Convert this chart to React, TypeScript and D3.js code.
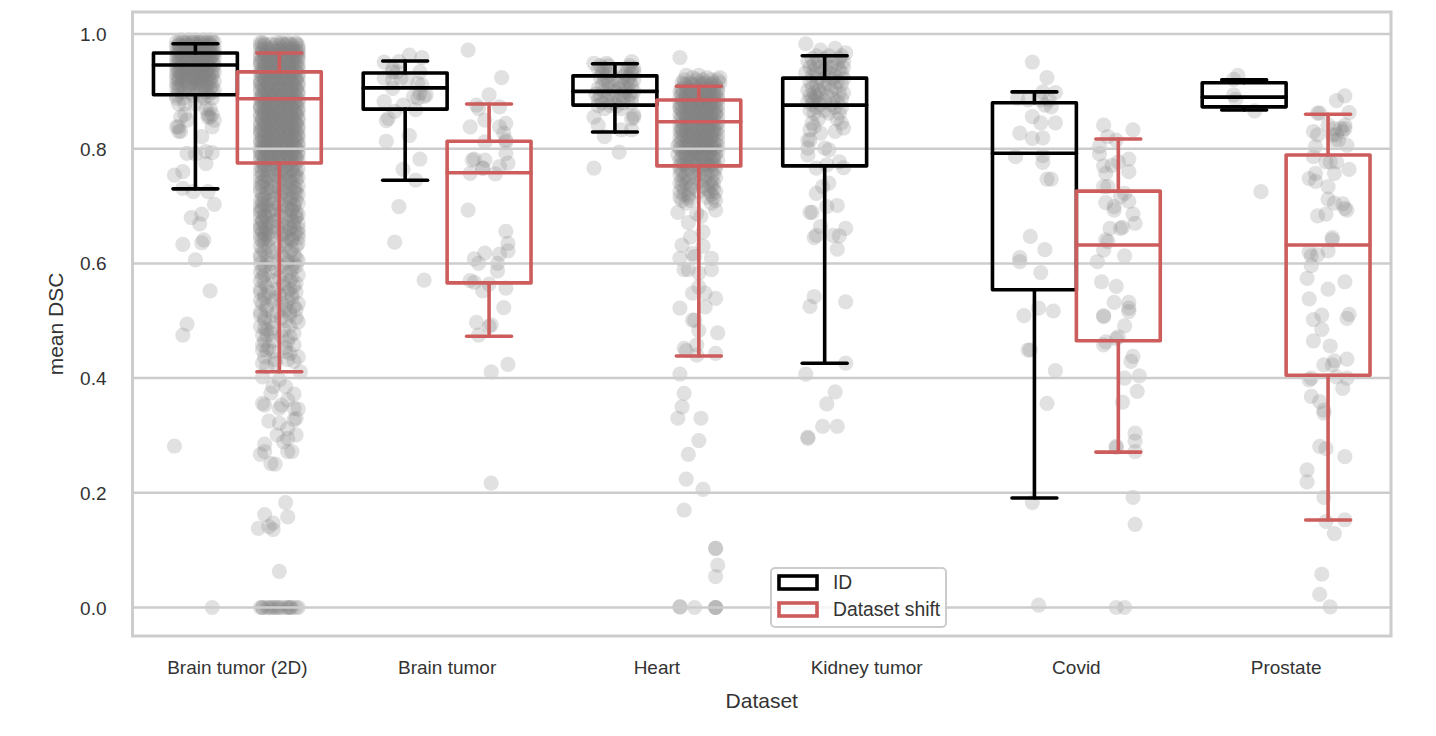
import { useEffect, useRef } from "react";
import * as d3 from "d3";

const categories = ["Brain tumor (2D)", "Brain tumor", "Heart", "Kidney tumor", "Covid", "Prostate"];
const hues = ["ID", "Dataset shift"];
const hueColors = ["#000000", "#cd5c5c"];
const yTicks = [0, 0.2, 0.4, 0.6, 0.8, 1.0];

// box stats per category: [whisker low, q1, median, q3, whisker high]
const idBoxes = [
  [0.73, 0.894, 0.946, 0.967, 0.983],
  [0.745, 0.869, 0.906, 0.932, 0.953],
  [0.829, 0.876, 0.9, 0.927, 0.948],
  [0.426, 0.77, 0.876, 0.923, 0.962],
  [0.191, 0.554, 0.792, 0.88, 0.899],
  [0.8675, 0.873, 0.89, 0.915, 0.92],
];
const shiftBoxes = [
  [0.411, 0.775, 0.887, 0.934, 0.967],
  [0.473, 0.566, 0.758, 0.813, 0.878],
  [0.4385, 0.77, 0.847, 0.885, 0.909],
  [0, 0, 0, 0, 0],
  [0.271, 0.465, 0.632, 0.726, 0.817],
  [0.1526, 0.405, 0.632, 0.789, 0.86],
];

// strip points: each row is [mean DSC, jitter, jitter, ...], jitter in hundredths of a category
const brain2dId = [
  [.99, -7, -3, 0, 4, 7], [.986, -9, -5, -1, 2, 6, 9], [.982, -8, -4, 0, 3, 7], [.978, -9, -6, -2, 1, 5, 8],
  [.974, -7, -3, 2, 4, 9], [.97, -9, -5, -1, 3, 6, 8], [.966, -8, -4, 0, 2, 7, 9], [.962, -9, -6, -2, 1, 5, 8],
  [.958, -7, -3, 0, 4, 6, 9], [.954, -9, -5, -1, 3, 7], [.95, -8, -4, 1, 5, 8], [.946, -9, -6, -2, 2, 6, 9],
  [.942, -7, -3, 0, 4, 7], [.938, -9, -5, -1, 3, 8], [.934, -8, -4, 1, 5, 9], [.93, -9, -6, -2, 2, 6],
  [.926, -7, -3, 0, 4, 8], [.922, -9, -5, -1, 3, 7], [.918, -8, -4, 1, 5, 9], [.914, -9, -2, 2, 6],
  [.91, -7, -3, 0, 4, 8], [.906, -9, -5, 3, 7], [.902, -8, -1, 1, 9], [.898, -6, -3, 5, 8], [.893, -9, -1, 3, 6],
  [.988, -6, -1, 3, 8], [.98, -7, -3, 2, 6], [.972, -8, -2, 0, 7], [.964, -6, -1, 4, 8], [.956, -8, -4, 2, 7], [.948, -7, -1, 3, 5],
  [.94, -8, -3, 2, 6], [.932, -7, -1, 4, 8], [.924, -8, -2, 2, 6], [.916, -6, 0, 3, 7], [.908, -8, -3, 5],
  [.888, -9, -6, 4, 8], [.878, -8, -5, 0], [.87, 7, 5], [.86, 6, 8, -5], [.855, -7, 6, 7], [.85, 9, -4],
  [.838, -9, -8, 8], [.83, -7, -8], [.821, 3], [.795, 5], [.793, 8], [.792, -4], [.791, 0], [.774, 5],
  [.76, -6], [.754, -10], [.731, -6], [.725, -1, 6], [.703, 9], [.686, 3], [.68, -2], [.669, 2], [.641, 4],
  [.636, 3], [.633, -6], [.606, 0], [.552, 7], [.494, -4], [.475, -6], [.2816, -10], [0, 8],
];
const brain2dShift = [
  [.985, -9, -8, -1, 1, 4, 8], [.98, -9, -7, -2, 0, 3, 6, 9], [.975, -9, -6, -3, 1, 4, 7, 9], [.97, -8, -5, -2, 0, 3, 6, 8, 9],
  [.965, -9, -7, -4, -1, 2, 5, 7, 9], [.96, -9, -6, -3, 0, 3, 6, 9], [.955, -8, -5, -2, 1, 4, 7, 9], [.95, -9, -7, -4, -1, 2, 5, 8],
  [.945, -9, -6, -3, 0, 3, 6, 9], [.94, -8, -5, -2, 1, 4, 7, 9], [.935, -9, -7, -4, -1, 2, 5, 8], [.93, -9, -6, -3, 0, 3, 6, 9],
  [.925, -8, -5, -2, 1, 4, 7, 9], [.92, -9, -7, -4, -1, 2, 5, 8], [.915, -9, -6, -3, 0, 3, 6, 9], [.91, -8, -5, -2, 1, 4, 7, 9],
  [.905, -9, -7, -4, -1, 2, 5, 8], [.9, -9, -6, -3, 0, 3, 6, 9], [.895, -8, -5, -2, 1, 4, 7, 9], [.89, -9, -7, -4, -1, 2, 5, 8],
  [.885, -9, -6, -3, 0, 3, 6, 9], [.88, -8, -5, -2, 1, 4, 7, 9], [.875, -9, -7, -4, -1, 2, 5, 8], [.87, -9, -6, -3, 0, 3, 6, 9],
  [.865, -8, -5, -2, 1, 4, 7, 9], [.86, -9, -7, -4, -1, 2, 5, 8], [.855, -9, -6, -3, 0, 3, 6, 9], [.85, -8, -5, -2, 1, 4, 7, 9],
  [.845, -9, -7, -4, -1, 2, 5, 8], [.84, -9, -6, -3, 0, 3, 6, 9], [.835, -8, -5, -2, 1, 4, 7, 9], [.83, -9, -7, -4, -1, 2, 5, 8],
  [.825, -9, -6, -3, 0, 3, 6, 9], [.82, -8, -5, -2, 1, 4, 7, 9], [.815, -9, -7, -4, -1, 2, 5, 8], [.81, -9, -6, -3, 0, 3, 6, 9],
  [.805, -8, -5, -2, 1, 4, 7, 9], [.8, -9, -7, -4, -1, 2, 5, 8], [.795, -9, -6, -3, 0, 3, 6, 9], [.79, -8, -5, -2, 1, 4, 7, 9],
  [.785, -9, -7, -4, -1, 2, 5, 8], [.78, -9, -6, -3, 0, 3, 6, 9],
  [.9825, -7, -4, 2, 5, 8], [.9725, -8, -5, -1, 2, 6], [.9625, -7, -4, 1, 4, 8], [.9525, -9, -5, -2, 3, 6], [.9425, -7, -3, 0, 5, 8],
  [.9325, -8, -5, -2, 2, 6], [.9225, -7, -3, 1, 4, 8], [.9125, -9, -5, -1, 3, 6], [.9025, -7, -4, 0, 5, 8], [.8925, -8, -5, -2, 2, 6],
  [.8825, -7, -3, 1, 4, 8], [.8725, -9, -5, -1, 3, 6], [.8625, -7, -4, 0, 5, 8], [.8525, -8, -5, -2, 2, 6], [.8425, -7, -3, 1, 4, 8],
  [.8325, -9, -5, -1, 3, 6], [.8225, -7, -4, 0, 5, 8], [.8125, -8, -5, -2, 2, 6], [.8025, -7, -3, 1, 4, 8], [.7925, -9, -5, -1, 3, 6],
  [.7825, -7, -4, 0, 5, 8],
  [.775, -8, -4, 0, 5, 8], [.77, -9, -6, -1, 3, 7], [.765, -7, -3, 2, 6, 9], [.76, -9, -5, 0, 4, 8], [.755, -8, -2, 3, 7],
  [.75, -9, -5, 1, 5, 9], [.745, -7, -3, 4, 8], [.74, -9, -6, 2, 6], [.735, -8, -2, 3, 9], [.73, -6, 0, 5, 8],
  [.725, -9, -4, 2, 7], [.72, -8, -2, 4, 9], [.715, -7, 1, 6], [.71, -9, -5, 3, 8], [.705, -8, -3, 5, 9], [.7, -9, -6, 2, 7],
  [.695, -8, -2, 4, 6], [.69, -9, -5, 1, 8], [.685, -7, -3, 5, 9], [.68, -9, -6, 3, 8], [.675, -8, -1, 6], [.67, -9, -5, 4, 9],
  [.665, -7, -3, 2, 7], [.66, -9, -6, 5, 9], [.655, -8, -4, 3, 8], [.65, -9, -6, 1, 7], [.645, -7, -4, 4, 9], [.64, -8, 2, 6],
  [.7725, -7, -2, 4], [.7625, -8, 1, 6], [.7525, -6, -1, 8], [.7425, -8, 0, 5], [.7325, -9, -4, 7], [.7225, -6, 1, 8], [.7125, -8, -3, 5],
  [.7025, -7, 0, 7], [.6925, -9, -4, 6], [.6825, -7, 1, 8], [.6725, -8, -3, 7], [.6625, -9, -1, 5], [.6525, -7, 2, 9], [.6425, -9, -5, 6],
  [.635, -7, 3, 9], [.63, -9, -5, 3, 8], [.625, -8, -1, 6], [.62, -7, -3, 5], [.615, -9, 1, 7], [.61, -9, -6, 2, 8], [.605, -5, 4, 9],
  [.6, -9, -4, 4, 7], [.595, -7, 1, 8], [.59, -8, -1, 6], [.585, -9, -4, 5], [.58, -7, 3, 9], [.575, -8, 0, 6], [.57, -9, -3, 5],
  [.565, -7, 2, 8], [.56, -6, 2, 7], [.555, -9, -1, 5], [.55, -9, -5, 4, 8], [.545, -7, 0, 6], [.54, -7, -2, 6], [.535, -9, -3, 4],
  [.53, -8, 1, 9], [.525, -6, 3, 7], [.52, -6, 3, 8], [.515, -9, -1, 5], [.51, -9, -3, 5], [.505, -7, 1, 8],
  [.5, 3, -7], [.498, 9, -4], [.49, -9, 5], [.487, -3, -7], [.484, -6, 2], [.478, -4, 7], [.475, -8, -6], [.472, 5, 1],
  [.465, -7, -3, 4], [.458, 7, -8], [.453, -5, 3], [.449, -8, -6], [.446, 3, -3], [.443, 5], [.437, 9, -7], [.432, -2, 4], [.429, 7], [.426, -8, -2], [.42, -6], [.411, 10], [.402, -8], [.397, 0],
  [.385, -3, 3], [.374, -4], [.372, 7], [.362, 4], [.356, -8], [.353, -7, 1], [.347, 0, 7], [.346, 9], [.33, 8], [.327, 7],
  [.325, -5], [.321, 0], [.312, 4], [.301, -1, 8], [.295, 4], [.289, 2], [.285, -7], [.272, -7, 4, 6], [.267, -9], [.251, -4], [.25, -2],
  [.183, 3], [.162, -7], [.158, 4], [.147, -3], [.141, -5], [.138, -10], [.136, -3], [.063, 0],
  [0, -9, -8, -8, -6, -5, -4, -3, -2, -1, 0, 1, 3, 4, 5, 5, 6, 8, 9],
];
const brainId = [
  [.963, 2], [.959, 8], [.952, -3], [.951, -10], [.94, -6], [.934, 7, -6, -4], [.923, -10, -2], [.92, -6, 1], [.914, 6],
  [.911, 8], [.905, -6], [.897, 7], [.894, 10], [.891, 9, 4], [.888, 6], [.882, -10], [.876, -1], [.868, 5], [.865, -5],
  [.853, -8], [.849, -9], [.823, 2], [.813, -9], [.782, 7], [.764, -1], [.745, 5], [.699, -3], [.637, -5], [.571, 9],
];
const brainShift = [
  [.972, -10], [.924, 6], [.894, 0], [.876, -6], [.873, 5], [.87, -5], [.85, -2], [.844, 8], [.838, -9, 5], [.827, 7],
  [.815, 8], [.812, -2, 8], [.792, 8], [.782, -7], [.78, -8, -2], [.775, 9], [.769, 5], [.766, -3, -3], [.757, -9], [.756, 3],
  [.693, -10], [.656, 8], [.635, 9], [.622, 9], [.618, -2], [.616, 5], [.608, -7], [.6, 4, -5], [.587, 4], [.57, -9],
  [.567, -7], [.564, 0], [.557, 8], [.552, -3], [.523, 7], [.497, -6], [.493, 1], [.49, 0], [.475, -5], [.424, 9], [.411, 1], [.217, 1],
];
const heartId = [
  [.952, 8], [.949, -10, -4], [.945, -7, -3, 7], [.94, -8, -5, 6, 9], [.937, -6, 8], [.934, 9, -4, 3], [.93, -6, -2, 5, 8],
  [.925, -7, -4, 4, 7], [.92, -5, 0, 6, 9], [.915, -3, 2, 7], [.91, -6, -1, 4, 8], [.905, -8, -3, 2, 6], [.9, -5, 0, 5, 9],
  [.895, -9, -3, 3, 7], [.89, -7, -1, 4, 8], [.885, -8, -4, 2, 6], [.88, -6, -1, 4, 8], [.875, -8, -2, 1], [.87, -5, 3],
  [.859, 9], [.855, -10, 9], [.852, 8], [.841, -8], [.833, 3, 8], [.821, -5], [.794, 2], [.766, -10],
];
const heartShift = [
  [.959, -9], [.928, -6, 0], [.924, 10, -3, 4], [.92, -7, -1, 2, 6, 9], [.915, -8, -4, 0, 3, 7, 10], [.91, -6, -2, 1, 5, 8],
  [.905, -8, -5, -1, 3, 6, 9], [.9, -9, -6, -3, 0, 4, 7, 9], [.895, -8, -4, -1, 2, 5, 8], [.89, -9, -6, -2, 1, 4, 7, 9],
  [.885, -8, -5, -3, 0, 3, 6, 9], [.88, -9, -6, -2, 1, 4, 7, 8], [.875, -8, -4, -1, 2, 5, 9], [.87, -9, -6, -3, 0, 3, 6, 8],
  [.865, -8, -5, -2, 1, 4, 7, 9], [.86, -9, -6, -3, 0, 3, 6, 8], [.855, -8, -4, -1, 2, 5, 9], [.85, -9, -6, -2, 1, 4, 7],
  [.845, -8, -5, -3, 0, 3, 6, 9], [.84, -9, -6, -2, 1, 4, 7, 8], [.835, -8, -4, -1, 2, 5, 9], [.83, -9, -6, -3, 0, 3, 6, 8],
  [.825, -8, -5, -2, 1, 4, 7, 9], [.82, -9, -6, -3, 0, 3, 6], [.815, -8, -4, -1, 2, 5, 9], [.81, -9, -6, -2, 1, 4, 7],
  [.805, -10, -5, -3, 0, 3, 6, 9], [.8, -9, -6, -2, 1, 4, 7, 8], [.795, -8, -4, -1, 2, 5, 9], [.79, -10, -6, -3, 0, 3, 8],
  [.785, -8, -5, -2, 1, 4, 7], [.78, -9, -3, 0, 3, 6, 9], [.775, -8, -5, -1, 4, 7], [.77, -9, -6, -2, 2, 5, 8],
  [.9125, -7, -3, 2, 6], [.9025, -8, -4, 1, 5], [.8925, -6, -2, 3, 7], [.8825, -7, -1, 2, 6], [.8725, -9, -4, 1, 5], [.8625, -7, -2, 3, 8],
  [.8525, -6, 0, 2, 6], [.8425, -7, -3, 1, 5], [.8325, -8, -1, 4, 7], [.8225, -7, -4, 2, 6], [.8125, -5, 0, 3, 8], [.8025, -8, -3, 2, 6],
  [.7925, -7, -2, 1, 5], [.7825, -6, -4, 2, 7], [.7725, -7, -1, 3, 6],
  [.765, -9, -5, -1, 3, 8], [.76, -8, -3, 1, 6], [.755, -9, -6, 0, 4, 7], [.75, -7, -2, 3, 8], [.745, -8, -5, 1, 6],
  [.74, -9, -6, -1, 5, 7], [.735, -8, -3, 2, 6], [.73, -7, -4, 4, 7], [.725, -9, 0, 5, 8], [.72, -7, -5, 6], [.715, -9, -5, 4, 7],
  [.71, -8, -4, 8], [.705, -6, 6], [.693, 8], [.689, -10], [.687, -1], [.682, 1], [.671, -5], [.655, 2], [.646, -4], [.632, -8],
  [.63, 2], [.617, -3], [.612, -2], [.609, -9, 6], [.589, -7, -5, 6], [.583, 0], [.559, 0], [.548, -3, 3], [.539, 8], [.524, 3],
  [.522, -9], [.501, -2, -3], [.483, 0], [.479, 9], [.458, -1], [.452, -7], [.448, -6], [.443, 8], [.44, -1],
  [.407, -9], [.3735, -7], [.35, -8], [.33, -10, 1], [.291, 0], [.267, -5], [.224, -6], [.206, 2], [.17, -7],
  [.103, 8, 8], [.074, 9], [.054, 8], [.001, -9, -9], [0, -2, 8, 8, 8],
];
const kidneyId = [
  [.983, -9], [.975, 5], [.972, -2], [.967, 10], [.962, -4, 2, 8], [.957, -6, 0, 7], [.952, -8, -3, 4, 9], [.947, -5, 1, 6],
  [.942, -7, -2, 3, 9], [.937, -5, 0, 7], [.932, -9, -4, 2, 8], [.927, -6, 1, 5], [.922, -3, 4, 9], [.917, -7, -1, 6],
  [.912, -4, 2, 8], [.907, -6, 0, 5], [.902, -8, -3, 3], [.897, -5, -2, 7, 9], [.892, -7, -4, 1], [.887, -6, -3, 4, 8],
  [.882, -8, -5, 0, 6], [.877, -6, -2, 3], [.872, -4, 5, 8], [.867, -7, 0], [.862, -5, 2, 7], [.852, -3, 6], [.845, -6, 8],
  [.838, -5], [.836, 9], [.833, -7], [.83, 5], [.827, -2], [.815, -8, -7], [.801, 0, -8], [.798, 2], [.789, -8], [.777, 7],
  [.772, 1], [.767, 9], [.766, -4], [.74, 2], [.734, -1], [.722, -4], [.701, 6], [.699, 1], [.689, -6, -7], [.664, -2], [.661, 10],
  [.649, -4, 4], [.648, 7], [.645, -5], [.625, 6], [.542, -5], [.533, 10], [.525, -7], [.426, 10], [.407, -9], [.376, 5],
  [.355, 1], [.316, -1, 6], [.297, -8], [.295, -8],
];
const covidId = [
  [.951, -1], [.924, 6], [.899, 4], [.898, 10], [.888, -8], [.885, -3, 3, 7], [.876, 5], [.873, 8], [.856, -1], [.845, 10, 3],
  [.827, -7], [.819, 4], [.818, -1], [.788, 4], [.786, -9], [.776, 4], [.747, 6, 8], [.647, -2], [.624, 5], [.61, -7], [.603, -7],
  [.584, 3], [.522, 2], [.517, 9], [.509, -5], [.449, -3, -2], [.413, 10], [.356, 6], [.183, -1], [.004, 2],
];
const covidShift = [
  [.841, -7], [.833, 7], [.821, -5], [.815, -1], [.804, -9], [.791, -9], [.782, 5], [.777, 0], [.771, -3], [.77, -7], [.76, 5],
  [.757, -6], [.734, -7, -5], [.722, 3], [.716, 1], [.708, 5], [.706, -6], [.699, -2], [.693, -2], [.686, 7], [.67, 8], [.663, 2],
  [.661, 1, -4], [.641, -6], [.638, -5], [.623, -7], [.613, 3], [.603, -10], [.568, -8], [.56, -1], [.532, -2, 5], [.522, 5],
  [.516, 5], [.509, -7], [.507, -7], [.491, 3], [.472, 0], [.469, -1], [.463, -6], [.458, -7], [.438, 7], [.429, 6], [.404, 10],
  [.4, 3], [.377, 9], [.358, 2], [.304, 8], [.29, 8], [.281, -1], [.279, -1], [.272, 8], [.192, 7], [.145, 8], [0, -1, 3],
];
const prostateId = [
  [.928, -3], [.921, -5], [.894, -5], [.886, -4], [.866, 5], [.725, 8],
];
const prostateShift = [
  [.892, 8], [.884, 4], [.863, 10], [.862, -5, -4], [.841, 8, 0], [.835, 8, 3, 6], [.83, -7, 7], [.824, 4, -5, 2], [.815, 3, 5], [.806, 9],
  [.804, -6], [.786, -7], [.777, -1, 4, 1], [.764, 10], [.757, 3, -6], [.748, -9], [.743, -6], [.734, 0], [.712, 0], [.705, 3], [.704, 7],
  [.696, 8], [.693, 9], [.686, -1], [.683, -5], [.645, 2], [.641, 2], [.622, 0], [.62, -9], [.615, -5], [.613, -8], [.596, -8],
  [.574, -10], [.568, 8], [.555, 0], [.538, -9], [.511, 10], [.51, -3], [.504, 9], [.502, -7], [.485, -3], [.465, -7],
  [.456, 1], [.433, 9], [.43, 3], [.423, -2, 2], [.402, 4], [.4, -8, 9], [.397, -9], [.382, 7], [.368, -8], [.359, -4], [.344, -2],
  [.339, -2], [.281, -4], [.277, -1], [.263, 8], [.24, -10], [.219, -10], [.192, -2], [.153, 8], [.15, -1], [.129, 3], [.058, -3],
  [.023, -4], [.001, 1],
];

const idPoints = [brain2dId, brainId, heartId, kidneyId, covidId, prostateId];
const shiftPoints = [brain2dShift, brainShift, heartShift, [], covidShift, prostateShift];

export default function App() {
  const svgRef = useRef<SVGSVGElement>(null);

  useEffect(() => {
    const svg = d3.select(svgRef.current);
    svg.selectAll("*").remove();

    const FRAME = { LEFT: 132.5, RIGHT: 1391, TOP: 12, BOTTOM: 636 };
    const x = d3.scaleBand().domain(categories).range([FRAME.LEFT, FRAME.RIGHT]);
    const y = d3.scaleLinear().domain([0, 1]).range([607.5, 34]);
    const jitter = d3.scaleLinear().domain([-100, 100]).range([-x.bandwidth(), x.bandwidth()]);
    const hueOffset = d3.scaleOrdinal<string, number>().domain(hues).range([-0.2, 0.2].map((d) => d * x.bandwidth()));
    const center = (cat: string, hue: string) => (x(cat) as number) + x.bandwidth() / 2 + hueOffset(hue);

    const font = "'Liberation Sans', Arial, sans-serif";
    const textColor = "#333333";

    // strip points
    const dots = svg.append("g").attr("fill", "#808080").attr("fill-opacity", 0.24);
    hues.forEach((hue, h) => {
      const rows = h === 0 ? idPoints : shiftPoints;
      rows.forEach((catRows, c) => {
        const pts = catRows.flatMap((row) => row.slice(1).map((j) => ({ j, v: row[0] })));
        dots.append("g")
          .selectAll("circle")
          .data(pts)
          .join("circle")
          .attr("cx", (d) => center(categories[c], hue) + jitter(d.j))
          .attr("cy", (d) => y(d.v))
          .attr("r", 7.6);
      });
    });

    // grid
    svg.append("g")
      .selectAll("line")
      .data(yTicks)
      .join("line")
      .attr("x1", FRAME.LEFT)
      .attr("x2", FRAME.RIGHT)
      .attr("y1", (d) => y(d))
      .attr("y2", (d) => y(d))
      .attr("stroke", "#cccccc")
      .attr("stroke-width", 2.5);

    // boxes
    const boxW = x.bandwidth() * 0.4;
    const capW = boxW * 0.535;
    hues.forEach((hue, h) => {
      const stats = h === 0 ? idBoxes : shiftBoxes;
      const g = svg.append("g")
        .attr("stroke", hueColors[h])
        .attr("stroke-width", 3.6)
        .attr("fill", "none")
        .attr("stroke-linejoin", "round")
        .attr("stroke-linecap", "round");
      stats.forEach((s, c) => {
        if (s[4] === 0) return;
        const [lo, q1, med, q3, hi] = s;
        const cx = center(categories[c], hue);
        g.append("line").attr("x1", cx).attr("x2", cx).attr("y1", y(q1)).attr("y2", y(lo));
        g.append("line").attr("x1", cx).attr("x2", cx).attr("y1", y(q3)).attr("y2", y(hi));
        g.append("line").attr("x1", cx - capW / 2).attr("x2", cx + capW / 2).attr("y1", y(lo)).attr("y2", y(lo));
        g.append("line").attr("x1", cx - capW / 2).attr("x2", cx + capW / 2).attr("y1", y(hi)).attr("y2", y(hi));
        g.append("rect").attr("x", cx - boxW / 2).attr("width", boxW).attr("y", y(q3)).attr("height", y(q1) - y(q3));
        g.append("line").attr("x1", cx - boxW / 2).attr("x2", cx + boxW / 2).attr("y1", y(med)).attr("y2", y(med));
      });
    });

    // frame
    svg.append("rect")
      .attr("x", FRAME.LEFT)
      .attr("y", FRAME.TOP)
      .attr("width", FRAME.RIGHT - FRAME.LEFT)
      .attr("height", FRAME.BOTTOM - FRAME.TOP)
      .attr("fill", "none")
      .attr("stroke", "#cccccc")
      .attr("stroke-width", 3);

    // axes
    const yAxis = svg.append("g")
      .attr("transform", `translate(${FRAME.LEFT}, 0.5)`)
      .call(d3.axisLeft(y).tickValues(yTicks).tickFormat(d3.format(".1f")).tickSize(0).tickPadding(26));
    yAxis.select(".domain").remove();
    yAxis.selectAll("text").attr("font-family", font).attr("font-size", 19).attr("fill", textColor);

    const xAxis = svg.append("g")
      .attr("transform", `translate(0, ${FRAME.BOTTOM})`)
      .call(d3.axisBottom(x).tickSize(0).tickPadding(25));
    xAxis.select(".domain").remove();
    xAxis.selectAll("text").attr("font-family", font).attr("font-size", 19).attr("fill", textColor);

    svg.append("text")
      .attr("x", (FRAME.LEFT + FRAME.RIGHT) / 2)
      .attr("y", 708)
      .attr("text-anchor", "middle")
      .attr("font-family", font)
      .attr("font-size", 21)
      .attr("fill", textColor)
      .text("Dataset");

    svg.append("text")
      .attr("transform", `translate(63, 324) rotate(-90)`)
      .attr("text-anchor", "middle")
      .attr("font-family", font)
      .attr("font-size", 21)
      .attr("fill", textColor)
      .text("mean DSC");

    // legend
    const legend = svg.append("g").attr("transform", "translate(771, 568)");
    legend.append("rect")
      .attr("width", 175)
      .attr("height", 59)
      .attr("rx", 4)
      .attr("fill", "#ffffff")
      .attr("fill-opacity", 0.8)
      .attr("stroke", "#cccccc")
      .attr("stroke-width", 2);
    hues.forEach((hue, h) => {
      legend.append("rect")
        .attr("x", 8)
        .attr("y", 8 + h * 27)
        .attr("width", 38)
        .attr("height", 13)
        .attr("fill", "none")
        .attr("stroke", hueColors[h])
        .attr("stroke-width", 3.6);
      legend.append("text")
        .attr("x", 62)
        .attr("y", 21 + h * 27)
        .attr("font-family", font)
        .attr("font-size", 19.3)
        .attr("fill", textColor)
        .text(hue);
    });
  }, []);

  return (
    <div>
      <svg ref={svgRef} width={1436} height={736} style={{ position: "absolute", left: 0, top: 0 }} />
    </div>
  );
}
